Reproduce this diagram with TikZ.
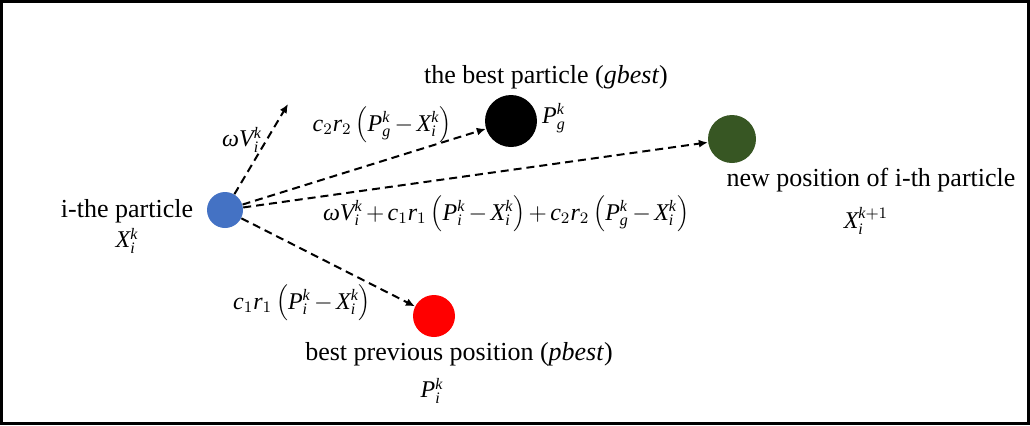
\documentclass[tikz,border=0pt]{standalone}
\usepackage{fontspec}
\setmainfont{Liberation Serif}
\DeclareSymbolFont{letters}{TU}{\rmdefault}{m}{it}
\usetikzlibrary{arrows.meta,positioning}
\definecolor{partblue}{HTML}{4472C4}
\definecolor{newgreen}{HTML}{375623}
\newcommand{\omg}{\mbox{\itshape ω}}

\tikzset{
  particle/.style={circle,inner sep=0pt,minimum size=#1},
  move/.style={dash pattern=on 4pt off 2.5pt,line width=1pt,-{Latex[length=4.5pt,width=4pt]}},
  formula/.style={inner sep=1pt,font=\fontsize{12}{14}\selectfont},
}

\begin{document}
\medmuskip=2.5mu
\begin{tikzpicture}[x=0.5pt,y=-0.5pt,font=\fontsize{13}{15}\selectfont,inner sep=1pt]
  \useasboundingbox (0,0) rectangle (1030,425);
  \draw[line width=1.5pt] (1.5,1.5) rectangle (1028.5,423.5);
  % particles
  \node[particle=18pt,fill=partblue] (xi) at (225,210) {};
  \node[particle=26pt,fill=black] (gbest) at (511,121) {};
  \node[particle=24pt,fill=newgreen] (xnew) at (732,139) {};
  \node[particle=21pt,fill=red] (pbest) at (434,316) {};
  \coordinate (inertia) at (288,104);
  % velocity parts
  \draw[move] (xi) -- (inertia);
  \draw[move] (xi) -- (gbest);
  \draw[move] (xi) -- (xnew);
  \draw[move] (xi) -- (pbest);
  % labels
  \node (xiname) at (127,211) {i-the particle};
  \node[formula] (xisym) at (127,241) {$X_i^k$};
  \node (gbestname) at (546,77) {the best particle (\textit{gbest})};
  \node[formula] (gbestsym) at (554,118) {$P_g^k$};
  \node[formula] (social) at (382,125) {$c_2r_2\left(P_g^k-X_i^k\right)$};
  \node[formula] (inertiasym) at (242,140) {$\omg V_i^k$};
  \node[formula] (update) at (506,214) {$\omg V_i^k+c_1r_1\left(P_i^k-X_i^k\right)+c_2r_2\left(P_g^k-X_i^k\right)$};
  \node[formula] (cognitive) at (302,303) {$c_1r_1\left(P_i^k-X_i^k\right)$};
  \node (pbestname) at (459,354) {best previous position (\textit{pbest})};
  \node[formula] (pbestsym) at (432,391) {$P_i^k$};
  \node (xnewname) at (871,180) {new position of i-th particle};
  \node[formula] (xnewsym) at (866,221) {$X_i^{k+1}$};
\end{tikzpicture}
\end{document}
